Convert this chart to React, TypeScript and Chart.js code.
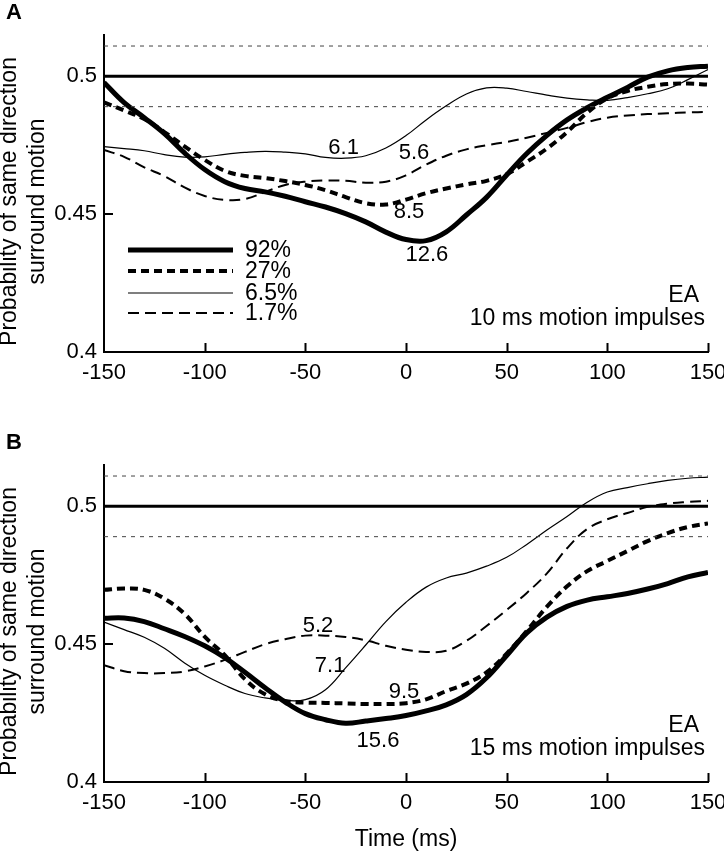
import React, { useEffect, useRef } from 'react';
import { Chart, registerables } from 'chart.js';

Chart.register(...registerables);

const FONT = '"Liberation Sans", Arial, Helvetica, sans-serif';
Chart.defaults.font.family = FONT;
Chart.defaults.color = '#000';

// ---- data ----
const TIMES = [-150, -140, -130, -120, -110, -100, -90, -80, -70, -60, -50, -40, -30, -20, -10, 0, 10, 20, 30, 40, 50, 60, 70, 80, 90, 100, 110, 120, 130, 140, 150];
const X_TICKS = [-150, -100, -50, 0, 50, 100, 150];
const Y_TICKS = [0.4, 0.45, 0.5];
const X_MIN = -150;
const X_MAX = 150;
const Y_MIN = 0.4;
const Y_MAX = 0.515;
const CHANCE = 0.5;
const BAND = [0.511, 0.489];

const SERIES_LABELS = ['92%', '27%', '6.5%', '1.7%'];

// Panel A: 10 ms motion impulses
const A_92 = [0.4978, 0.4905, 0.4850, 0.4792, 0.4722, 0.4662, 0.4618, 0.4593, 0.4581, 0.4565, 0.4545, 0.4526, 0.4502, 0.4472, 0.4435, 0.4408, 0.4404, 0.4436, 0.4497, 0.4561, 0.4642, 0.4720, 0.4786, 0.4842, 0.4886, 0.4924, 0.4960, 0.4997, 0.5020, 0.5032, 0.5037];
const A_27 = [0.4906, 0.4876, 0.4845, 0.4798, 0.4746, 0.4697, 0.4657, 0.4639, 0.4631, 0.4620, 0.4606, 0.4587, 0.4562, 0.4540, 0.4535, 0.4553, 0.4576, 0.4593, 0.4608, 0.4621, 0.4645, 0.4690, 0.4738, 0.4798, 0.4868, 0.4920, 0.4947, 0.4962, 0.4972, 0.4974, 0.4970];
const A_65 = [0.4745, 0.4738, 0.4730, 0.4716, 0.4707, 0.4708, 0.4717, 0.4724, 0.4728, 0.4725, 0.4719, 0.4706, 0.4703, 0.4712, 0.4740, 0.4785, 0.4842, 0.4893, 0.4936, 0.4958, 0.4957, 0.4945, 0.4932, 0.4921, 0.4915, 0.4913, 0.4923, 0.4937, 0.4955, 0.4988, 0.5025];
const A_17 = [0.4733, 0.4708, 0.4670, 0.4638, 0.4597, 0.4566, 0.4552, 0.4555, 0.4580, 0.4606, 0.4618, 0.4622, 0.4621, 0.4614, 0.4618, 0.4641, 0.4680, 0.4712, 0.4735, 0.4750, 0.4762, 0.4777, 0.4795, 0.4813, 0.4834, 0.4850, 0.4858, 0.4863, 0.4866, 0.4869, 0.4871];
const A_NOTE_TEXT = ['6.1', '5.6', '8.5', '12.6'];
const A_NOTE_X = [-31, 4, 1.5, 10.4];
const A_NOTE_Y = [0.4739, 0.4721, 0.4507, 0.4351];

// Panel B: 15 ms motion impulses
const B_92 = [0.4594, 0.4595, 0.4582, 0.4556, 0.4528, 0.4494, 0.4451, 0.4398, 0.4342, 0.4290, 0.4248, 0.4226, 0.4213, 0.4221, 0.4230, 0.4241, 0.4258, 0.4280, 0.4317, 0.4378, 0.4459, 0.4541, 0.4598, 0.4637, 0.4660, 0.4672, 0.4684, 0.4700, 0.4720, 0.4744, 0.4760];
const B_27 = [0.4697, 0.4702, 0.4697, 0.4665, 0.4610, 0.4527, 0.4460, 0.4373, 0.4318, 0.4294, 0.4288, 0.4287, 0.4285, 0.4283, 0.4283, 0.4286, 0.4300, 0.4330, 0.4357, 0.4398, 0.4466, 0.4548, 0.4636, 0.4710, 0.4765, 0.4802, 0.4838, 0.4874, 0.4903, 0.4925, 0.4938];
const B_65 = [0.4580, 0.4553, 0.4525, 0.4485, 0.4432, 0.4387, 0.4351, 0.4321, 0.4305, 0.4296, 0.4299, 0.4335, 0.4414, 0.4497, 0.4582, 0.4652, 0.4707, 0.4740, 0.4758, 0.4783, 0.4815, 0.4862, 0.4914, 0.4963, 0.5015, 0.5052, 0.5068, 0.5082, 0.5094, 0.5102, 0.5106];
const B_17 = [0.4424, 0.4402, 0.4395, 0.4395, 0.4401, 0.4419, 0.4443, 0.4472, 0.4500, 0.4518, 0.4531, 0.4531, 0.4526, 0.4514, 0.4494, 0.4480, 0.4472, 0.4476, 0.4512, 0.4566, 0.4624, 0.4686, 0.4757, 0.4848, 0.4918, 0.4953, 0.4976, 0.4998, 0.5010, 0.5016, 0.5020];
const B_NOTE_TEXT = ['5.2', '7.1', '9.5', '15.6'];
const B_NOTE_X = [-43.7, -37.7, -1, -13.9];
const B_NOTE_Y = [0.4565, 0.4421, 0.4326, 0.4149];

const Y_TITLE = ['Probability of same direction', 'surround motion'];
const X_TITLE = 'Time (ms)';

// ---- styles ----
const SERIES_STYLE = [
  { width: 5, dash: [] as number[] },
  { width: 4, dash: [8, 5] },
  { width: 1.2, dash: [] as number[] },
  { width: 2, dash: [11, 6] },
];

type PanelSpec = {
  letter: string;
  series: number[][];
  noteText: string[];
  noteX: number[];
  noteY: number[];
  impulse: string;
  showLegend: boolean;
  showXTitle: boolean;
  height: number;
};

function makeDecor(spec: PanelSpec) {
  return {
    id: 'decor' + spec.letter,
    afterDraw(chart: any) {
      const ctx = chart.ctx as CanvasRenderingContext2D;
      const xs = chart.scales.x;
      const ys = chart.scales.y;
      const area = chart.chartArea;
      ctx.save();
      // inward ticks
      ctx.strokeStyle = '#000';
      ctx.lineWidth = 2;
      ctx.setLineDash([]);
      ctx.beginPath();
      xs.ticks.forEach((t: any) => {
        if (t.value === X_MIN) return;
        const px = Math.round(xs.getPixelForValue(t.value)) + 0.5;
        ctx.moveTo(px, area.bottom);
        ctx.lineTo(px, area.bottom - 9);
      });
      ys.ticks.forEach((t: any) => {
        if (t.value === Y_MIN) return;
        const py = Math.round(ys.getPixelForValue(t.value));
        ctx.moveTo(area.left, py);
        ctx.lineTo(area.left + 9, py);
      });
      ctx.stroke();

      // y-axis title (two lines, rotated)
      ctx.fillStyle = '#000';
      ctx.save();
      ctx.translate(10, (area.top + area.bottom) / 2 + 8);
      ctx.rotate(-Math.PI / 2);
      ctx.font = `23px ${FONT}`;
      ctx.textAlign = 'center';
      ctx.textBaseline = 'middle';
      Y_TITLE.forEach((line, i) => ctx.fillText(line, 0, i * 28));
      ctx.restore();

      // panel letter
      ctx.font = `bold 22px ${FONT}`;
      ctx.textAlign = 'left';
      ctx.textBaseline = 'middle';
      ctx.fillText(spec.letter, 6, 13);

      // value notes
      ctx.font = `22px ${FONT}`;
      ctx.textAlign = 'center';
      spec.noteText.forEach((txt, i) => {
        ctx.fillText(txt, xs.getPixelForValue(spec.noteX[i]), ys.getPixelForValue(spec.noteY[i]));
      });

      // subject / condition text
      ctx.font = `23px ${FONT}`;
      ctx.textAlign = 'right';
      ctx.fillText('EA', area.right - 9, area.bottom - 56);
      ctx.fillText(spec.impulse, area.right - 3, area.bottom - 33);

      // legend
      if (spec.showLegend) {
        const rows = [215, 236, 258, 278];
        chart.data.datasets.forEach((ds: any) => {
          if (ds.seriesIndex === undefined) return;
          const i = ds.seriesIndex;
          const y = area.top + rows[i];
          ctx.beginPath();
          ctx.strokeStyle = '#000';
          ctx.lineWidth = ds.borderWidth;
          ctx.setLineDash(ds.borderDash || []);
          ctx.moveTo(area.left + 24, y);
          ctx.lineTo(area.left + 129, y);
          ctx.stroke();
          ctx.setLineDash([]);
          ctx.textAlign = 'left';
          ctx.font = `23px ${FONT}`;
          ctx.fillText(ds.label, area.left + 141, y + 1);
        });
      }
      ctx.restore();
    },
  };
}

function buildConfig(spec: PanelSpec): any {
  const refLine = (y: number, width: number, dash: number[], color: string) => ({
    label: 'ref',
    data: [{ x: X_MIN, y }, { x: X_MAX, y }],
    borderColor: color,
    borderWidth: width,
    borderDash: dash,
    pointRadius: 0,
    tension: 0,
  });
  const datasets: any[] = [
    refLine(BAND[0], 1, [4, 5], '#444'),
    refLine(BAND[1], 1, [4, 5], '#444'),
    refLine(CHANCE, 3, [], '#000'),
  ];
  spec.series.forEach((vals, i) => {
    datasets.push({
      label: SERIES_LABELS[i],
      seriesIndex: i,
      data: TIMES.map((t, k) => ({ x: t, y: vals[k] })),
      borderColor: '#000',
      borderWidth: SERIES_STYLE[i].width,
      borderDash: SERIES_STYLE[i].dash,
      pointRadius: 0,
      tension: 0.4,
      fill: false,
    });
  });
  const xHeight = spec.height - 352;
  return {
    type: 'line',
    data: { datasets },
    options: {
      animation: false,
      responsive: false,
      events: [],
      layout: { padding: { left: 0, right: 16, top: 35, bottom: 0 } },
      plugins: { legend: { display: false }, tooltip: { enabled: false }, title: { display: false } },
      scales: {
        x: {
          type: 'linear',
          min: X_MIN,
          max: X_MAX,
          grid: { display: false, drawTicks: false },
          border: { display: true, color: '#000', width: 2 },
          ticks: { padding: 8, color: '#000', font: { size: 22 }, callback: (v: number) => String(v) },
          afterBuildTicks: (s: any) => { s.ticks = X_TICKS.map((v) => ({ value: v })); },
          afterFit: (s: any) => { s.height = xHeight; s.paddingLeft = 0; s.paddingRight = 0; },
          title: {
            display: spec.showXTitle,
            text: X_TITLE,
            color: '#000',
            font: { size: 23, lineHeight: 1.2 },
            padding: { top: 0, bottom: 0 },
          },
        },
        y: {
          type: 'linear',
          min: Y_MIN,
          max: Y_MAX,
          grid: { display: false, drawTicks: false },
          border: { display: true, color: '#000', width: 2 },
          ticks: { padding: 7, color: '#000', font: { size: 22 }, callback: (v: number) => String(Math.round(v * 1000) / 1000) },
          afterBuildTicks: (s: any) => { s.ticks = Y_TICKS.map((v) => ({ value: v })); },
          afterFit: (s: any) => { s.width = 104; s.paddingTop = 0; s.paddingBottom = 0; },
          title: { display: false },
        },
      },
    },
    plugins: [makeDecor(spec)],
  };
}

const PANEL_A: PanelSpec = {
  letter: 'A',
  series: [A_92, A_27, A_65, A_17],
  noteText: A_NOTE_TEXT,
  noteX: A_NOTE_X,
  noteY: A_NOTE_Y,
  impulse: '10 ms motion impulses',
  showLegend: true,
  showXTitle: false,
  height: 430,
};

const PANEL_B: PanelSpec = {
  letter: 'B',
  series: [B_92, B_27, B_65, B_17],
  noteText: B_NOTE_TEXT,
  noteX: B_NOTE_X,
  noteY: B_NOTE_Y,
  impulse: '15 ms motion impulses',
  showLegend: false,
  showXTitle: true,
  height: 423,
};

export default function App() {
  const refA = useRef<HTMLCanvasElement>(null);
  const refB = useRef<HTMLCanvasElement>(null);
  useEffect(() => {
    const a = new Chart(refA.current!, buildConfig(PANEL_A));
    const b = new Chart(refB.current!, buildConfig(PANEL_B));
    return () => {
      a.destroy();
      b.destroy();
    };
  }, []);
  return (
    <div style={{ position: 'absolute', left: 0, top: 0, width: 724, height: 853, overflow: 'hidden', background: '#fff' }}>
      <canvas ref={refA} width={724} height={PANEL_A.height} style={{ position: 'absolute', left: 0, top: 0 }} />
      <canvas ref={refB} width={724} height={PANEL_B.height} style={{ position: 'absolute', left: 0, top: PANEL_A.height }} />
    </div>
  );
}
